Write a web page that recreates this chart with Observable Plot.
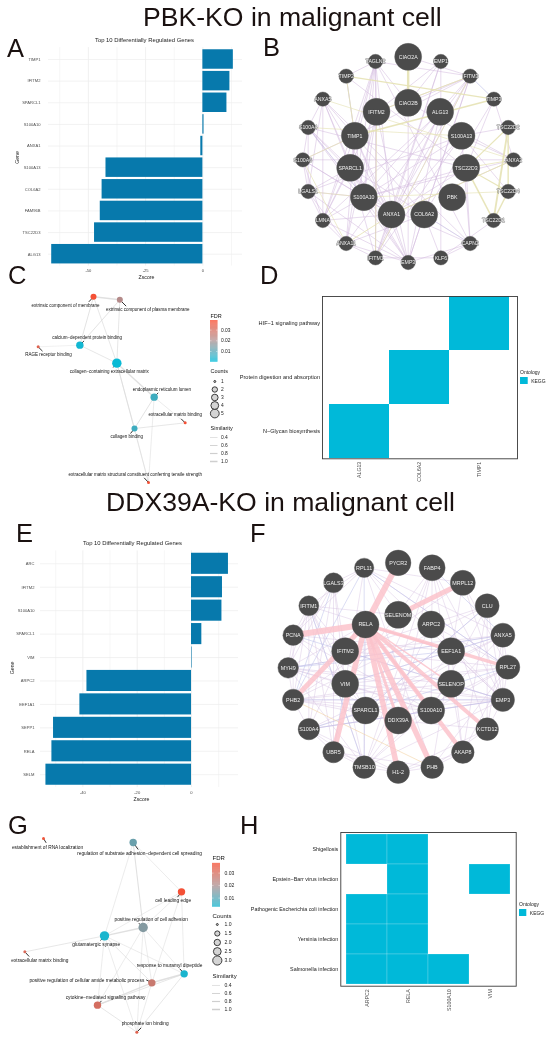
<!DOCTYPE html>
<html><head><meta charset="utf-8">
<script src="https://cdn.jsdelivr.net/npm/d3@7"></script>
<script src="https://cdn.jsdelivr.net/npm/@observablehq/plot@0.6"></script>
<style>
html,body{margin:0;padding:0;background:#fff}
#page{position:relative;width:550px;height:1042px;overflow:hidden;font-family:"Liberation Sans",Arial,sans-serif;color:#1a1110;filter:blur(0.3px)}
.t{position:absolute;white-space:nowrap;line-height:1}
#page svg{position:absolute;overflow:visible}
</style></head><body><div id="page"></div>
<script>
// ---------- bar panels ----------
const genesA=["TIMP1","IFITM2","SPARCL1","S100A10","ANXA1","S100A13","COL6A2","FAM96B","TSC22D3","ALG13"];
const zA=[13.3,11.8,10.5,0.5,-0.9,-42.3,-44,-44.8,-47.3,-66];
const genesE=["ARC","IFITM2","S100A10","SPARCL1","VIM","ARPC2","EEF1A1","SEPP1","RELA","SELM"];
const zE=[13.6,11.4,11.2,3.8,0.2,-38.5,-41.1,-50.8,-51.4,-53.6];

// ---------- network B ----------
const namesB=["TAGLN2","EMP1","TIMP2","IFITM3","ANXA5","TIMP3","S100A4","TSC22D2","S100A6","ANXA2","LGALS1","TSC22D4","LMNA","TSC22D1","ANXA11","CAPN2","IFITM1","EMP3","KLF6","CIAO2A","CIAO2B","IFITM2","ALG13","TIMP1","S100A13","SPARCL1","TSC22D3","S100A10","PBK","ANXA1","COL6A2"];
const xB=[345,541,257,629,187,700,143,743,127,759,143,743,187,699,257,629,345,443,541,443,443,348,539,283,603,269,617,310,575,393,491];
const yB=[93,93,137,137,206,206,291,291,388,388,483,483,570,570,639,639,682,696,682,79,217,244,244,316,316,412,412,500,500,552,552];
const sizeB=[7.2,7.2,7.2,7.2,7.2,7.2,7.2,7.2,7.2,7.2,7.2,7.2,7.2,7.2,7.2,7.2,7.2,7.2,7.2,13.5,13.5,13.5,13.5,13.5,13.5,13.5,13.5,13.5,13.5,13.5,13.5];
const purpleB=[["EMP3","S100A10"],["EMP3","ANXA1"],["EMP3","SPARCL1"],["EMP3","TIMP1"],["EMP3","IFITM2"],["EMP3","IFITM3"],["EMP3","CIAO2B"],["EMP3","ALG13"],["EMP3","COL6A2"],["EMP3","LMNA"],["EMP3","ANXA11"],["EMP3","S100A4"],["EMP3","LGALS1"],["EMP3","CAPN2"],
["ANXA1","IFITM3"],["ANXA1","TAGLN2"],["ANXA1","S100A10"],["ANXA1","SPARCL1"],["ANXA1","S100A13"],["ANXA1","TSC22D3"],["ANXA1","LMNA"],["ANXA1","S100A4"],["ANXA1","S100A6"],["ANXA1","ANXA5"],["ANXA1","TIMP1"],["ANXA1","EMP1"],["ANXA1","ANXA2"],["ANXA1","ALG13"],["ANXA1","IFITM1"],
["S100A10","IFITM2"],["S100A10","S100A4"],["S100A10","S100A6"],["S100A10","LGALS1"],["S100A10","ANXA5"],["S100A10","TSC22D3"],["S100A10","ANXA2"],["S100A10","S100A13"],["S100A10","TAGLN2"],["S100A10","IFITM3"],["S100A10","TIMP2"],["S100A10","LMNA"],
["SPARCL1","S100A4"],["SPARCL1","LGALS1"],["SPARCL1","ANXA5"],["SPARCL1","COL6A2"],["SPARCL1","IFITM1"],["SPARCL1","TAGLN2"],["SPARCL1","TIMP1"],["SPARCL1","LMNA"],
["TIMP1","LMNA"],["TIMP1","ANXA11"],["TIMP1","S100A6"],["TIMP1","ANXA5"],["TIMP1","TAGLN2"],["TIMP1","COL6A2"],["TIMP1","IFITM3"],
["IFITM2","IFITM1"],["IFITM2","IFITM3"],["IFITM2","TAGLN2"],["IFITM2","LMNA"],["IFITM2","EMP1"],["IFITM2","ANXA11"],
["TAGLN2","LMNA"],["TAGLN2","CIAO2B"],["TAGLN2","ANXA11"],["TAGLN2","IFITM1"],["TAGLN2","TIMP2"],["TAGLN2","CAPN2"],
["IFITM3","CIAO2A"],["IFITM3","IFITM1"],["IFITM3","CIAO2B"],["IFITM3","ANXA11"],["IFITM3","TAGLN2"],["IFITM3","COL6A2"],["EMP1","CIAO2B"],["EMP1","IFITM1"],["EMP1","KLF6"],
["COL6A2","CAPN2"],["COL6A2","KLF6"],["COL6A2","TIMP3"],["COL6A2","ANXA11"],["CAPN2","TSC22D3"],["CAPN2","S100A10"],["CAPN2","ANXA5"],["CAPN2","KLF6"],["KLF6","TSC22D1"],
["S100A13","ANXA2"],["S100A13","TSC22D2"],["S100A13","TSC22D4"],["S100A13","LGALS1"],["S100A13","IFITM1"],["S100A13","CAPN2"],["TSC22D3","S100A4"],["TSC22D3","TIMP3"],["TSC22D3","TIMP2"],["ANXA2","TIMP3"],["ANXA2","S100A6"],["ANXA2","CIAO2B"],
["ANXA5","S100A4"],["ANXA5","LGALS1"],["ANXA5","LMNA"],["S100A4","S100A6"],["S100A4","LGALS1"],["S100A6","LGALS1"],["S100A6","LMNA"],["LGALS1","LMNA"],["LGALS1","ANXA11"],["LMNA","ANXA11"],["ANXA11","IFITM1"],["IFITM1","KLF6"],["ALG13","IFITM1"],["ALG13","LMNA"]];
const yellowB=[["CIAO2A","CIAO2B",2.4],["TIMP2","TIMP3",1.1],["TIMP1","TIMP3",1.6],["TIMP2","TIMP1",0.9],["TIMP1","S100A6",0.8],["TSC22D2","TSC22D1",1.8],["TSC22D4","TSC22D1",1.5],["TSC22D2","TSC22D4",1.4],["TSC22D3","TSC22D1",1.6],["TSC22D3","TSC22D4",1.2],["TSC22D3","TSC22D2",1.1],["TSC22D3","ANXA2",0.8],["IFITM2","IFITM3",1],["IFITM1","IFITM3",0.7],["IFITM2","IFITM1",0.8],["ANXA1","ANXA11",0.9],["ANXA1","ANXA2",1],["S100A13","S100A4",0.7],["S100A10","TSC22D4",0.7],["S100A6","ANXA11",0.7],["LGALS1","S100A10",0.7],["ANXA5","ANXA2",0.7]];
const blueB=[["S100A4","S100A10"],["TIMP3","IFITM3"],["CAPN2","COL6A2"],["TIMP2","TIMP1"],["IFITM3","TIMP3"]];

// ---------- network F ----------
const namesF=["SELENOM","ARPC2","RELA","EEF1A1","IFITM2","VIM","SELENOP","SPARCL1","S100A10","DDX39A","PYCR2","FABP4","MRPL12","CLU","ANXA5","RPL27","EMP3","KCTD12","AKAP8","PHB","H1-2","TMSB10","UBR5","S100A4","PHB2","MYH9","PCNA","IFITM1","LGALS3","RPL11"];
const xF=[428,527,330,587,269,269,587,330,527,428,428,530,622,695,742,757,742,695,622,530,428,326,234,160,113,98,113,160,234,326];
const yF=[298,327,327,407,407,505,505,585,585,615,142,157,202,271,359,455,553,641,710,755,770,755,710,641,553,457,359,271,202,157];
const sizeF=[13.5,13.5,13.5,13.5,13.5,13.5,13.5,13.5,13.5,13.5,12.8,13,12.5,12,12,12,11.7,11.3,11.3,11.3,11.3,11.3,10.7,10.7,10.7,10.3,10.3,10,10,9.7];
const pinkF=[["RELA","PYCR2",6],["RELA","PCNA",6],["RELA","PHB2",5],["RELA","UBR5",5.5],["RELA","H1-2",5.5],["RELA","PHB",5.5],["RELA","AKAP8",4.5],["RELA","KCTD12",4],["RELA","RPL27",3.5],["SELENOM","MRPL12",5],["RELA","DDX39A",3],["RELA","S100A10",2.5],["RELA","SELENOP",1.5],["RELA","EEF1A1",2]];
const purpleF=[["TMSB10","VIM"],["TMSB10","IFITM1"],["TMSB10","RELA"],["TMSB10","S100A10"],["TMSB10","MYH9"],["TMSB10","H1-2"],["TMSB10","S100A4"],["TMSB10","EMP3"],["TMSB10","ARPC2"],["TMSB10","DDX39A"],["TMSB10","UBR5"],
["VIM","S100A10"],["VIM","EMP3"],["VIM","ANXA5"],["VIM","MYH9"],["VIM","LGALS3"],["VIM","RPL27"],["VIM","IFITM1"],["VIM","RPL11"],["VIM","PCNA"],["VIM","SPARCL1"],
["S100A10","EMP3"],["S100A10","ANXA5"],["S100A10","PHB2"],["S100A10","S100A4"],["S100A10","MYH9"],["S100A10","FABP4"],["S100A10","CLU"],["S100A10","RPL27"],["S100A10","PCNA"],
["SPARCL1","S100A4"],["SPARCL1","EMP3"],["SPARCL1","ANXA5"],["SPARCL1","CLU"],["SPARCL1","IFITM1"],["SPARCL1","FABP4"],["SPARCL1","PHB2"],
["DDX39A","RPL27"],["DDX39A","EEF1A1"],["DDX39A","PHB2"],["DDX39A","FABP4"],["DDX39A","KCTD12"],["DDX39A","MYH9"],
["IFITM2","IFITM1"],["IFITM2","RPL27"],["IFITM2","EMP3"],["IFITM2","S100A4"],["IFITM2","CLU"],["IFITM2","LGALS3"],["IFITM2","ANXA5"],
["RPL11","RPL27"],["RPL11","MRPL12"],["RPL11","ANXA5"],["RPL11","EMP3"],["RPL11","PHB"],["RPL11","PCNA"],["RPL11","SELENOM"],["RPL11","IFITM1"],["RPL11","LGALS3"],
["IFITM1","SELENOM"],["IFITM1","MYH9"],["IFITM1","S100A4"],["IFITM1","PHB2"],["IFITM1","UBR5"],["LGALS3","S100A4"],["LGALS3","MYH9"],["LGALS3","UBR5"],["LGALS3","PCNA"],
["FABP4","KCTD12"],["FABP4","AKAP8"],["FABP4","EMP3"],["FABP4","VIM"],["FABP4","TMSB10"],["MRPL12","RPL27"],["MRPL12","EMP3"],["MRPL12","PHB"],["MRPL12","PHB2"],
["CLU","EMP3"],["CLU","KCTD12"],["CLU","AKAP8"],["CLU","PHB2"],["ANXA5","EMP3"],["ANXA5","RPL27"],["ANXA5","KCTD12"],["ANXA5","S100A4"],["ANXA5","MYH9"],
["RPL27","EMP3"],["RPL27","PHB2"],["RPL27","PHB"],["RPL27","AKAP8"],["EMP3","S100A4"],["EMP3","PHB2"],["EMP3","KCTD12"],["EMP3","MYH9"],["KCTD12","H1-2"],["KCTD12","PHB"],["AKAP8","PHB"],["AKAP8","H1-2"],["AKAP8","EEF1A1"],["PHB","H1-2"],["PHB","UBR5"],["H1-2","UBR5"],["H1-2","S100A4"],
["S100A4","PHB2"],["S100A4","UBR5"],["PHB2","MYH9"],["MYH9","PCNA"],["MYH9","RELA"],["PCNA","IFITM1"],["PCNA","PHB2"],["PCNA","EEF1A1"],["ARPC2","RPL27"],["ARPC2","EMP3"],["EEF1A1","EMP3"],["EEF1A1","IFITM1"],["SELENOP","PHB2"],["SELENOP","MYH9"],["SELENOP","TMSB10"],["SELENOP","EMP3"]];
const blueF=[["MYH9","ANXA5"],["MYH9","EEF1A1"],["PHB2","RPL11"],["PHB2","EMP3"],["S100A4","EMP3"],["IFITM1","TMSB10"],["RPL11","TMSB10"],["RPL11","RPL27"],["LGALS3","PHB2"],["CLU","SPARCL1"],["ANXA5","VIM"],["PCNA","EMP3"],["RPL27","S100A4"],["FABP4","ANXA5"],["UBR5","VIM"]];
const orangeF=[["PHB2","PHB"]];

// ---------- enrichment graph C ----------
const termsC=["extrinsic component of membrane","extrinsic component of plasma membrane","calcium−dependent protein binding","RAGE receptor binding","collagen−containing extracellular matrix","endoplasmic reticulum lumen","extracellular matrix binding","collagen binding","extracellular matrix structural constituent conferring tensile strength"];
const xC=[279,358,238,113,349,461,554,402,444];
const yC=[79,88,224,229,278,380,457,474,636];
const fdrC=[0.037,0.021,0.002,0.032,0.001,0.007,0.037,0.007,0.037];
const countC=[2,2,3,1,5,3,1,2,1];
const labelXC=[195,442,260,144,326,484,524,379,404];
const labelYC=[104,118,201,253,302,357,433,499,612];
const tipXC=[265,377,250,126,338,473,542,390,431];
const tipYC=[94,107,212,242,291,367,445,489,622];
const edgesC=[[0,1,1],[0,2,0.6],[0,4,0.5],[1,2,0.6],[1,4,0.5],[2,3,0.3],[2,4,0.5],[4,5,0.9],[4,7,0.5],[4,8,0.5],[5,6,0.4],[5,7,0.6],[5,8,0.4],[6,7,0.5],[7,8,0.3]];

// ---------- enrichment graph G ----------
const termsG=["establishment of RNA localization","regulation of substrate adhesion−dependent cell spreading","cell leading edge","positive regulation of cell adhesion","glutamatergic synapse","extracellular matrix binding","response to muramyl dipeptide","positive regulation of cellular amide metabolic process","cytokine−mediated signaling pathway","phosphate ion binding"];
const xG=[129,398,543,428,312,73,551,454,291,409];
const yG=[114,126,274,381,406,454,520,547,614,695];
const fdrG=[0.036,0.012,0.037,0.015,0.003,0.03,0.003,0.026,0.029,0.032];
const countG=[1,2,2,3,3,1,2,2,2,1];
const labelXG=[141,417,518,452,287,118,507,259,315,434];
const labelYG=[140,160,300,356,432,481,495,540,590,670];
const tipXG=[137,413,531,415,300,86,538,437,303,422];
const tipYG=[127,147,290,368,420,468,505,538,601,682];
const edgesG=[[1,2,0.4],[1,3,0.7],[1,4,0.4],[2,3,0.4],[2,4,0.4],[2,7,0.4],[2,6,0.4],[3,4,0.9],[3,6,0.4],[3,7,0.4],[3,8,0.4],[3,9,0.4],[4,5,0.5],[4,6,0.4],[4,7,0.5],[4,9,0.4],[4,8,0.4],[6,7,1],[7,8,0.9],[6,8,0.5],[7,9,0.4],[6,9,0.5],[8,9,0.5]];

// ---------- legends ----------
const countsC=["1","2","3","4","5"];
const countsG=["1.0","1.5","2.0","2.5","3.0"];
const countRadiiC=[1,2.7,3.3,3.9,4.4];
const countRadiiG=[1,2.6,3.2,3.9,4.6];
const similarity=[0.4,0.6,0.8,1.0];
const fdrTicks=[0.01,0.02,0.03];

// ---------- KEGG heatmaps ----------
const pathwaysD=["HIF−1 signaling pathway","Protein digestion and absorption","N−Glycan biosynthesis"];
const genesD=["ALG13","COL6A2","TIMP1"];
const cellsD=[["TIMP1",0],["COL6A2",1],["ALG13",2]];
const pathwaysH=["Shigellosis","Epstein−Barr virus infection","Pathogenic Escherichia coli infection","Yersinia infection","Salmonella infection"];
const genesH=["ARPC2","RELA","S100A10","VIM"];
const cellsH=[["ARPC2",0],["RELA",0],["RELA",1],["VIM",1],["ARPC2",2],["RELA",2],["ARPC2",3],["RELA",3],["ARPC2",4],["RELA",4],["S100A10",4]];

// ---------- helpers ----------
const page=document.getElementById("page");
const FONT='"Liberation Sans",Arial,sans-serif';
const BAR="#0779ac", CYAN="#00b9d9", NODE="#4b4b4b", GRID="#ececec";
const fdrColor={type:"linear",domain:[0,0.02,0.039],range:["#00bcd9","#b08e8e","#fc4a2c"]};
function place(svg,left,top){svg.style.left=left+"px";svg.style.top=top+"px";page.appendChild(svg);}
function label(text,left,top,size,extra=""){
  const d=document.createElement("div");d.className="t";d.textContent=text;
  d.style.cssText=`left:${left}px;top:${top}px;font-size:${size}px;${extra}`;page.appendChild(d);
}
function barPanel(o){
  const data=o.genes.map((g,i)=>({gene:g,z:o.z[i]}));
  place(Plot.plot({
    width:o.w,height:o.h,marginLeft:o.l,marginRight:o.w-o.r,marginTop:o.t,marginBottom:o.h-o.b,
    style:{fontFamily:FONT,background:"transparent",overflow:"visible"},
    x:{domain:o.domain,label:null},
    y:{domain:o.genes,padding:0.1,round:false,label:null},
    marks:[
      Plot.ruleX(o.grid,{stroke:GRID,strokeWidth:0.5}),
      Plot.ruleX(o.major,{stroke:GRID,strokeWidth:0.8}),
      Plot.ruleY(o.genes,{y:d=>d,stroke:GRID,strokeWidth:0.7}),
      Plot.barX(data,{x:"z",y:"gene",fill:BAR}),
      Plot.axisX({ticks:o.major,tickSize:0,tickPadding:o.padX,fontSize:o.fs,fill:"#4d4d4d",label:null,tickFormat:d=>d<0?"-"+(-d):d}),
      Plot.axisY({tickSize:0,tickPadding:o.padY,fontSize:o.fs,fill:"#4d4d4d",label:null}),
      Plot.text(["Top 10 Differentially Regulated Genes"],{frameAnchor:"top",dy:o.titleDy,dx:o.titleDx,fontSize:5.9,fill:"#222",lineAnchor:"middle"}),
      Plot.text(["Zscore"],{frameAnchor:"bottom",dy:o.zDy,dx:o.zDx,fontSize:5.2,fill:"#222",lineAnchor:"middle"}),
      Plot.text(["Gene"],{frameAnchor:"left",dx:o.gDx,dy:o.gDy,rotate:-90,fontSize:5.2,fill:"#222",lineAnchor:"middle"})
    ]}),o.left,o.top);
}
function network(o){
  const nodes=o.names.map((n,i)=>({name:n,x:o.xs[i],y:o.ys[i],size:o.sizes[i]}));
  const at=new Map(nodes.map(n=>[n.name,n]));
  const links=(edges,stroke,opacity,width)=>Plot.link(edges,{
    x1:d=>at.get(d[0]).x,y1:d=>at.get(d[0]).y,x2:d=>at.get(d[1]).x,y2:d=>at.get(d[1]).y,
    stroke,strokeOpacity:opacity,strokeWidth:width,curve:"linear"});
  place(Plot.plot({
    width:o.w,height:o.h,margin:0,
    style:{fontFamily:FONT,background:"transparent",overflow:"visible"},
    x:{domain:[0,o.w*3],range:[0,o.w],axis:null},
    y:{domain:[0,o.h*3],range:[0,o.h],axis:null},
    r:{type:"linear",domain:[0,20],range:[0,20]},
    marks:[
      ...o.layers.map(l=>links(l.edges,l.stroke,l.opacity,l.width)),
      Plot.dot(nodes,{x:"x",y:"y",r:"size",fill:NODE,stroke:"#5c5c5c",strokeWidth:0.4}),
      Plot.text(nodes,{x:"x",y:"y",text:"name",fill:"#f0f0f0",fontSize:o.fs,stroke:o.halo?NODE:"none",strokeWidth:o.halo?0.9:0,strokeOpacity:0.7})
    ]}),o.left,o.top);
}
function graph(o){
  const nodes=o.terms.map((t,i)=>({term:t,x:o.xs[i],y:o.ys[i],fdr:o.fdr[i],count:o.count[i],lx:o.lx[i],ly:o.ly[i],tx:o.tx[i],ty:o.ty[i]}));
  place(Plot.plot({
    width:o.w,height:o.h,margin:0,
    style:{fontFamily:FONT,background:"transparent",overflow:"visible"},
    x:{domain:[0,o.w*3],range:[0,o.w],axis:null},
    y:{domain:[0,o.h*3],range:[0,o.h],axis:null},
    color:fdrColor,
    r:{type:"linear",domain:o.rDomain,range:o.rRange},
    marks:[
      Plot.link(o.edges,{x1:d=>nodes[d[0]].x,y1:d=>nodes[d[0]].y,x2:d=>nodes[d[1]].x,y2:d=>nodes[d[1]].y,stroke:"#dadada",strokeOpacity:0.85,strokeWidth:d=>d[2]*1.5,curve:"linear"}),
      Plot.link(nodes,{x1:"x",y1:"y",x2:"tx",y2:"ty",stroke:"#000",strokeWidth:0.8,curve:"linear"}),
      Plot.dot(nodes,{x:"x",y:"y",r:"count",fill:"fdr"}),
      Plot.text(nodes,{x:"lx",y:"ly",text:"term",fontSize:o.fs,fill:"#111"})
    ]}),o.left,o.top);
}
function legendSet(o){
  const titleStyle={frameAnchor:"top-left",fontSize:o.titleFs,fill:"#111",lineAnchor:"middle"};
  // FDR colour bar
  const steps=d3.range(o.fdrDomain[0],o.fdrDomain[1],0.0005);
  place(Plot.plot({
    width:o.barW+20,height:o.barH,margin:0,marginRight:20,
    style:{fontFamily:FONT,background:"transparent",overflow:"visible"},
    x:{domain:[0,1],range:[0,o.barW],axis:null},
    y:{domain:o.fdrDomain,range:[o.barH,0],axis:null},
    color:fdrColor,
    marks:[
      Plot.rect(steps,{x1:0,x2:1,y1:d=>d,y2:d=>d+0.0005,fill:d=>d}),
      Plot.ruleY(fdrTicks,{x1:0,x2:0.2,stroke:"#fff",strokeWidth:0.4}),
      Plot.ruleY(fdrTicks,{x1:0.8,x2:1,stroke:"#fff",strokeWidth:0.4}),
      Plot.text(fdrTicks,{y:d=>d,frameAnchor:"left",dx:o.labelDx,textAnchor:"start",text:d=>d.toFixed(2),fontSize:o.fs,fill:"#222"}),
      Plot.text(["FDR"],{...titleStyle,dy:-(o.barTop-o.fdrTitle)})
    ]}),o.left,o.barTop);
  // Counts
  place(Plot.plot({
    width:30,height:o.countsH,margin:0,
    style:{fontFamily:FONT,background:"transparent",overflow:"visible"},
    y:{type:"point",domain:o.counts,range:[0,o.countsH],padding:0,axis:null},
    marks:[
      Plot.dot(o.counts,{y:d=>d,frameAnchor:"left",dx:o.dotDx,r:(d,i)=>o.radii[i],fill:"#d4d4d4",stroke:"#111",strokeWidth:0.8}),
      Plot.text(o.counts,{y:d=>d,frameAnchor:"left",dx:o.labelDx,textAnchor:"start",fontSize:o.fs,fill:"#222"}),
      Plot.text(["Counts"],{...titleStyle,dy:-(o.countsTop-o.countsTitle)})
    ],
    r:{type:"identity"}}),o.left,o.countsTop);
  // Similarity
  place(Plot.plot({
    width:30,height:o.simH,margin:0,
    style:{fontFamily:FONT,background:"transparent",overflow:"visible"},
    x:{domain:[0,1],range:[0,o.barW],axis:null},
    y:{type:"point",domain:similarity,range:[0,o.simH],padding:0,axis:null},
    marks:[
      Plot.ruleY(similarity,{y:d=>d,x1:0,x2:1,stroke:"#cfcfcf",strokeWidth:d=>d*1.5}),
      Plot.text(similarity,{y:d=>d,frameAnchor:"left",dx:o.labelDx,textAnchor:"start",text:d=>d.toFixed(1),fontSize:o.fs,fill:"#222"}),
      Plot.text(["Similarity"],{...titleStyle,dy:-(o.simTop-o.simTitle)})
    ]}),o.left,o.simTop);
}
function heat(o){
  const data=o.cells.map(c=>({gene:c[0],path:o.paths[c[1]]}));
  place(Plot.plot({
    width:o.w,height:o.h,marginLeft:o.l,marginRight:o.w-o.r,marginTop:o.t,marginBottom:o.h-o.b,
    style:{fontFamily:FONT,background:"transparent",overflow:"visible"},
    x:{domain:o.genes,range:o.xr,padding:0,label:null},
    y:{domain:o.paths,padding:0,label:null},
    marks:[
      Plot.cell(data,{x:"gene",y:"path",fill:CYAN,stroke:"#fff",strokeOpacity:o.cellLine,strokeWidth:0.4,inset:0}),
      Plot.frame({stroke:"#3a3a3a",strokeWidth:0.9}),
      Plot.axisX({tickSize:0,tickPadding:o.padX,tickRotate:-90,fontSize:o.fsX,fill:"#4d4d4d",label:null}),
      Plot.axisY({tickSize:0,tickPadding:o.padY,fontSize:o.fs,fill:"#222",label:null})
    ]}),o.left,o.top);
}
function ontologyLegend(left,top,keyW,fs){
  label("Ontology",left,top-fs*0.55,fs,"color:#222");
  const key=["KEGG"];
  place(Plot.plot({
    width:34,height:keyW,margin:0,
    style:{fontFamily:FONT,background:"transparent",overflow:"visible"},
    x:{domain:[0,1],range:[0,keyW],axis:null},
    y:{domain:key,padding:0,axis:null},
    marks:[Plot.barX(key,{x1:0,x2:1,y:d=>d,fill:CYAN}),
      Plot.text(key,{y:d=>d,frameAnchor:"left",dx:keyW+3,textAnchor:"start",fontSize:fs,fill:"#222"})]
  }),left,top+5);
}

// ---------- titles & panel letters ----------
label("PBK-KO in malignant cell",143,3.5,26.6);
label("DDX39A-KO in malignant cell",106,488.8,26.6);
[["A",7,36],["B",263,35],["C",8,263],["D",260,263],["E",16,521],["F",250,521],["G",8,813],["H",240,813]]
 .forEach(p=>label(p[0],p[1],p[2],25.5));

// ---------- panels ----------
barPanel({left:0,top:30,w:250,h:250,l:48,r:242,t:17.1,b:235.6,domain:[-67.4,17.3],genes:genesA,z:zA,
  major:[-50,-25,0],grid:[-62.5,-37.5,-12.5,12.5],padX:2.5,padY:8,fs:4.1,titleDy:-7,titleDx:-1,zDy:11,zDx:1,gDx:-31,gDy:7});
barPanel({left:0,top:515,w:250,h:290,l:40,r:238,t:35.4,b:272.1,domain:[-55.6,17.3],genes:genesE,z:zE,
  major:[-40,-20,0],grid:[-50,-30,-10,10],padX:3.5,padY:6,fs:4.1,titleDy:-8,titleDx:-7,zDy:11.5,zDx:2,gDx:-28,gDy:5});

network({left:260,top:30,w:290,h:250,names:namesB,xs:xB,ys:yB,sizes:sizeB,fs:5.2,halo:true,layers:[
  {edges:purpleB,stroke:"#d2b8de",opacity:0.5,width:1},
  {edges:blueB,stroke:"#b3b6e3",opacity:0.6,width:0.5},
  {edges:yellowB,stroke:"#e6e2b4",opacity:0.9,width:d=>d[2]}]});
network({left:255,top:515,w:295,h:280,names:namesF,xs:xF,ys:yF,sizes:sizeF,fs:5.4,halo:false,layers:[
  {edges:purpleF,stroke:"#d8c4e3",opacity:0.5,width:0.9},
  {edges:blueF,stroke:"#bcc0ea",opacity:0.65,width:0.8},
  {edges:orangeF,stroke:"#f2cf9a",opacity:0.9,width:0.6},
  {edges:pinkF,stroke:"#fbc3cb",opacity:0.85,width:d=>d[2]}]});

graph({left:0,top:270,w:280,h:230,terms:termsC,xs:xC,ys:yC,fdr:fdrC,count:countC,lx:labelXC,ly:labelYC,tx:tipXC,ty:tipYC,edges:edgesC,fs:4.5,rDomain:[1,2,3,5],rRange:[1.5,3,3.7,4.7]});
graph({left:0,top:800,w:270,h:242,terms:termsG,xs:xG,ys:yG,fdr:fdrG,count:countG,lx:labelXG,ly:labelYG,tx:tipXG,ty:tipYG,edges:edgesG,fs:4.8,rDomain:[1,2,3],rRange:[1.5,3.7,4.7]});

legendSet({left:210,barW:7.5,barTop:320,barH:41.7,fdrDomain:[0,0.039],fdrTitle:315.7,labelDx:10.5,fs:4.9,titleFs:5.5,
  counts:countsC,radii:countRadiiC,dotDx:4.3,countsTop:378.7,countsH:35.3,countsTitle:370.3,simTop:436,simH:25,simTitle:427.3});
legendSet({left:211.5,barW:8,barTop:862.7,barH:43.6,fdrDomain:[0.0028,0.0377],fdrTitle:857.7,labelDx:12,fs:5.1,titleFs:6,
  counts:countsG,radii:countRadiiG,dotDx:4.8,countsTop:924,countsH:36.7,countsTitle:915.3,simTop:983.7,simH:26.3,simTitle:975});

heat({left:260,top:285,w:290,h:205,l:62,r:257,t:11,b:173.3,genes:genesD,paths:pathwaysD,cells:cellsD,xr:[68.7,250],cellLine:0,padX:3,padY:2.5,fs:5.6,fsX:5.2});
heat({left:250,top:820,w:300,h:200,l:90.3,r:265.7,t:12,b:165.7,genes:genesH,paths:pathwaysH,cells:cellsH,xr:[94.3,261],cellLine:0.45,padX:3,padY:2.5,fs:5.4,fsX:5.3});
ontologyLegend(520,372.3,7.7,5);
ontologyLegend(519,904.3,7.3,5);
</script></body></html>
